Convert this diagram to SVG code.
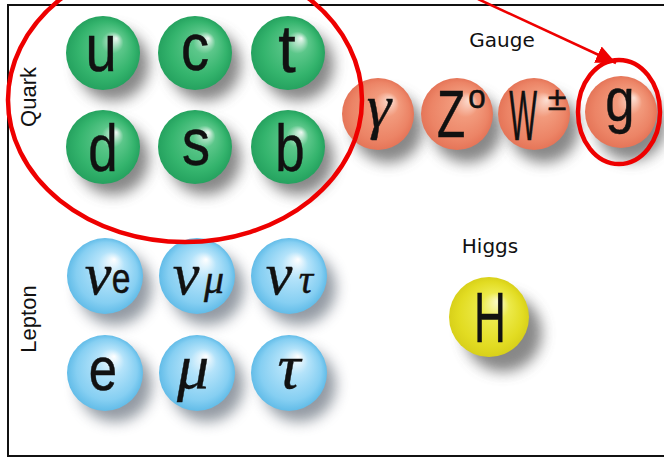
<svg xmlns="http://www.w3.org/2000/svg" width="664" height="458" viewBox="0 0 664 458">
<defs>
<radialGradient id="gGreen" cx="0.5" cy="0.5" r="0.5" fx="0.68" fy="0.3">
<stop offset="0" stop-color="#eef8f2"/>
<stop offset="0.3" stop-color="#5cc78a"/>
<stop offset="0.75" stop-color="#34b46d"/>
<stop offset="1" stop-color="#25a25f"/>
</radialGradient>
<radialGradient id="gBlue" cx="0.5" cy="0.5" r="0.5" fx="0.62" fy="0.28">
<stop offset="0" stop-color="#ffffff"/>
<stop offset="0.35" stop-color="#b4e3fa"/>
<stop offset="0.8" stop-color="#86cff2"/>
<stop offset="1" stop-color="#62bce8"/>
</radialGradient>
<radialGradient id="gOrange" cx="0.5" cy="0.5" r="0.5" fx="0.68" fy="0.3">
<stop offset="0" stop-color="#fde0d4"/>
<stop offset="0.35" stop-color="#f29a7c"/>
<stop offset="0.8" stop-color="#ec8466"/>
<stop offset="1" stop-color="#e57558"/>
</radialGradient>
<radialGradient id="gYellow" cx="0.5" cy="0.5" r="0.5" fx="0.62" fy="0.3">
<stop offset="0" stop-color="#fbfbd0"/>
<stop offset="0.35" stop-color="#ecea4a"/>
<stop offset="0.8" stop-color="#e2dc22"/>
<stop offset="1" stop-color="#d8d01a"/>
</radialGradient>
<filter id="blur" x="-50%" y="-50%" width="200%" height="200%">
<feGaussianBlur stdDeviation="7"/>
</filter>
<marker id="arrow" markerUnits="userSpaceOnUse" markerWidth="24" markerHeight="20" refX="20" refY="9" orient="auto">
<path d="M0,0 L20,9 L0,18 Z" fill="#ee0000"/>
</marker>
</defs>
<style>
.frame{stroke:#111;stroke-width:2;fill:none}
.shadow{fill:#555;opacity:0.7;filter:url(#blur)}
.shadowL{fill:#5a6572;opacity:0.65;filter:url(#blur)}
.q{fill:url(#gGreen)}
.l{fill:url(#gBlue)}
.b{fill:url(#gOrange)}
.h{fill:url(#gYellow)}
.sym{font-family:"Liberation Sans",Arial,sans-serif;fill:#111;stroke:#111;stroke-width:0.5;text-anchor:middle}
.ital{font-family:"Liberation Serif","Times New Roman",serif;font-style:italic;fill:#111;stroke:#111;stroke-width:0.4;text-anchor:middle}
.lbl{font-family:"DejaVu Sans",Verdana,sans-serif;font-size:20px;fill:#111;text-anchor:middle}
.side{font-family:"Liberation Sans",Arial,sans-serif;font-size:22px;fill:#111;text-anchor:middle}
.mark{fill:none;stroke:#ee0000;stroke-width:4.5}
</style>
<rect width="664" height="458" fill="#ffffff"/>
<g id="frame">
<path class="frame" d="M664,5 H8 V456 H664"/>
</g>
<text class="side" transform="translate(36,97) rotate(-90)">Quark</text>
<text class="side" transform="translate(36,319) rotate(-90)">Lepton</text>
<text class="lbl" x="502" y="47">Gauge</text>
<text class="lbl" x="490" y="253">Higgs</text>

<g id="quark-u"><circle class="shadow" cx="113" cy="65" r="36"/><circle class="q" cx="103" cy="53" r="37"/><text class="sym" font-size="66" transform="translate(101,71) scale(0.85,1)">u</text></g>
<g id="quark-c"><circle class="shadow" cx="205" cy="65" r="36"/><circle class="q" cx="195" cy="53" r="37"/><text class="sym" font-size="66" transform="translate(195,70) scale(0.85,1)">c</text></g>
<g id="quark-t"><circle class="shadow" cx="298" cy="65" r="36"/><circle class="q" cx="288" cy="53" r="37"/><text class="sym" font-size="66" transform="translate(287,72) scale(0.95,1)">t</text></g>
<g id="quark-d"><circle class="shadow" cx="113" cy="159" r="36"/><circle class="q" cx="103" cy="147" r="37"/><text class="sym" font-size="66" transform="translate(103,171) scale(0.8,1)">d</text></g>
<g id="quark-s"><circle class="shadow" cx="205" cy="159" r="36"/><circle class="q" cx="195" cy="147" r="37"/><text class="sym" font-size="66" transform="translate(196,165) scale(0.85,1)">s</text></g>
<g id="quark-b"><circle class="shadow" cx="298" cy="159" r="36"/><circle class="q" cx="288" cy="147" r="37"/><text class="sym" font-size="66" transform="translate(290,171) scale(0.8,1)">b</text></g>

<g id="lepton-ve"><circle class="shadowL" cx="115" cy="288" r="37"/><circle class="l" cx="105" cy="276" r="38"/><text class="ital" font-size="60" x="98" y="294">ν</text><text class="sym" font-size="42" transform="translate(121,293) scale(0.8,1)">e</text></g>
<g id="lepton-vmu"><circle class="shadowL" cx="207" cy="288" r="37"/><circle class="l" cx="197" cy="276" r="38"/><text class="ital" font-size="60" x="186" y="294">ν</text><text class="ital" font-size="40" x="214" y="293">μ</text></g>
<g id="lepton-vtau"><circle class="shadowL" cx="299" cy="288" r="37"/><circle class="l" cx="289" cy="276" r="38"/><text class="ital" font-size="60" x="279" y="294">ν</text><text class="ital" font-size="40" x="306" y="293">τ</text></g>
<g id="lepton-e"><circle class="shadowL" cx="115" cy="385" r="37"/><circle class="l" cx="105" cy="373" r="38"/><text class="sym" font-size="62" transform="translate(103,390) scale(0.82,1)">e</text></g>
<g id="lepton-mu"><circle class="shadowL" cx="207" cy="385" r="37"/><circle class="l" cx="197" cy="373" r="38"/><text class="ital" font-size="64" x="193" y="388">μ</text></g>
<g id="lepton-tau"><circle class="shadowL" cx="299" cy="385" r="37"/><circle class="l" cx="289" cy="373" r="38"/><text class="ital" font-size="64" x="289" y="388">τ</text></g>

<g id="gauge-gamma"><circle class="shadow" cx="388" cy="128" r="35"/><circle class="b" cx="378" cy="114" r="36"/><text class="ital" font-size="62" x="379" y="127">γ</text></g>
<g id="gauge-z"><circle class="shadow" cx="467" cy="128" r="35"/><circle class="b" cx="457" cy="114" r="36"/><text class="sym" font-size="66" transform="translate(451,137) scale(0.7,1)">Z</text><text class="sym" font-size="33" transform="translate(477,108) scale(0.95,1)">o</text></g>
<g id="gauge-w"><circle class="shadow" cx="544" cy="128" r="35"/><circle class="b" cx="534" cy="114" r="36"/><text class="sym" font-size="70" stroke-width="2.5" transform="translate(523,140) scale(0.42,1)">W</text><text class="sym" font-size="34" x="557" y="110">±</text></g>
<g id="gauge-g"><circle class="shadow" cx="631" cy="126" r="35"/><circle class="b" cx="621" cy="112" r="36"/><text class="sym" font-size="62" transform="translate(620,121) scale(0.85,1)">g</text></g>

<g id="higgs-h"><circle class="shadow" cx="503" cy="333" r="39"/><circle class="h" cx="489" cy="317" r="40"/><text class="sym" font-size="70" stroke-width="1.2" transform="translate(490,342) scale(0.63,1)">H</text></g>

<g id="annotations">
<ellipse class="mark" cx="185" cy="100" rx="177" ry="142"/>
<ellipse class="mark" cx="619" cy="112" rx="41" ry="52"/>
</g>
<g id="connectors">
<line x1="478" y1="-1" x2="616" y2="63" stroke="#ee0000" stroke-width="2.5" marker-end="url(#arrow)"/>
</g>
</svg>
